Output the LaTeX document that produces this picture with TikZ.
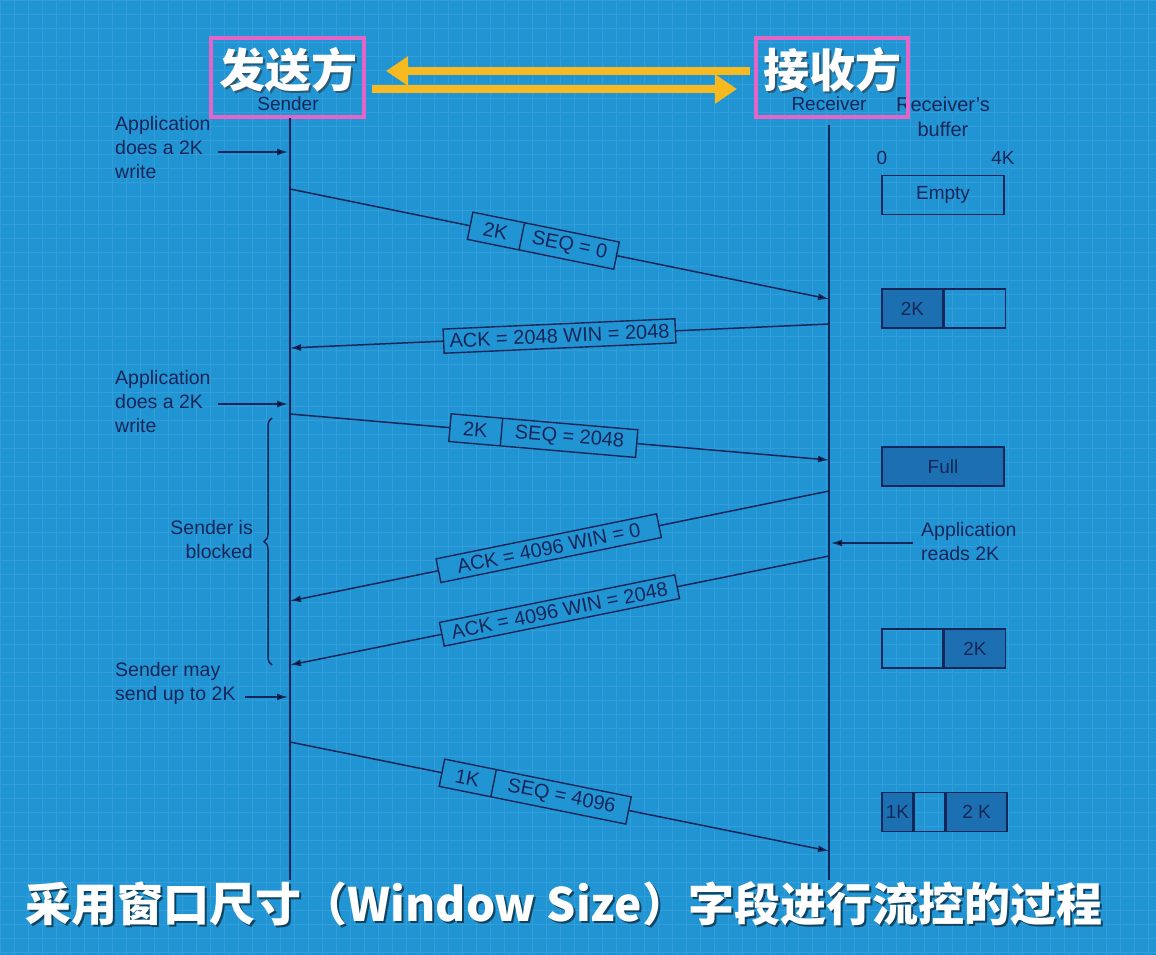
\documentclass[tikz,border=0pt]{standalone}
\usepackage{fontspec}
\setmainfont{Liberation Sans}
\newfontfamily\cjk{Noto Sans CJK SC}
\usetikzlibrary{arrows.meta,shapes.multipart,decorations.pathreplacing,calc}
\definecolor{bg}{RGB}{33,148,212}
\definecolor{ink}{RGB}{22,38,88}
\definecolor{dk}{RGB}{28,112,178}
\definecolor{pinkb}{RGB}{228,100,200}
\definecolor{yel}{RGB}{246,186,32}
\definecolor{gridc}{RGB}{80,175,228}
\tikzset{
  conn/.style={draw=ink, line width=1.5pt},
  tip/.style={-{Latex[length=11pt,width=7pt]}},
  lbl/.style={font=\fontsize{19.5}{24}\selectfont, text=ink, inner sep=0pt, align=left},
  msg/.style={draw=ink, line width=1.4pt, fill=bg, font=\fontsize{20}{22}\selectfont, text=ink, inner xsep=0pt, inner ysep=5pt, sloped},
  msgsplit/.style={msg, rectangle split, rectangle split horizontal, rectangle split parts=2},
  buf/.style={draw=ink, line width=1.5pt, minimum height=39pt, inner sep=0pt, font=\fontsize{19}{20}\selectfont, text=ink},
  head/.style={font=\cjk\bfseries\fontsize{46}{50}\selectfont, inner sep=0pt},
  pinkbox/.style={draw=pinkb, line width=4pt},
  yarrow/.style={draw=yel, line width=8pt, -{Triangle[length=22pt,width=28pt]}},
}
\begin{document}
\begin{tikzpicture}[x=1pt,y=-1pt]
\useasboundingbox (0,0) rectangle (1156,955);
\fill[bg] (0,0) rectangle (1156,955);
\draw[gridc, line width=0.5pt, opacity=0.35] (0,0) grid[step=14pt] (1156,955);

% headers
\node[head, text=black!80, opacity=0.6] at (290,72) {发送方};
\node[head, text=white] (sh) at (288,70) {发送方};
\node[font=\fontsize{19}{20}\selectfont, text=ink] (sn) at (288,104) {Sender};
\node[head, text=black!80, opacity=0.6] at (834,72) {接收方};
\node[head, text=white] (rh) at (832,70) {接收方};
\node[font=\fontsize{19}{20}\selectfont, text=ink] (rn) at (829,104) {Receiver};
\node[font=\fontsize{20}{25}\selectfont, text=ink, align=center, inner sep=0pt] (rb) at (943,117) {Receiver's\\buffer};
\draw[pinkbox] (211,38) rectangle (364,117);
\draw[pinkbox] (756,38) rectangle (908,117);
\coordinate (ya1) at (750,71); \coordinate (ya2) at (386,71);
\coordinate (yb1) at (372,89); \coordinate (yb2) at (737,89);
\draw[yarrow] (ya1) -- (ya2);
\draw[yarrow] (yb1) -- (yb2);

% lifelines
\coordinate (S0) at (290,118); \coordinate (S1) at (290,880);
\coordinate (R0) at (829,125); \coordinate (R1) at (829,880);
\draw[conn] (S0) -- (S1);
\draw[conn] (R0) -- (R1);

% buffer scale
\node[lbl, font=\fontsize{19}{20}\selectfont] (z0) at (882,158) {0};
\node[lbl, font=\fontsize{19}{20}\selectfont] (z4) at (1003,158) {4K};

% buffers
\node[buf, minimum width=122pt] (e1) at (943,195) {Empty};
\node[buf, minimum width=61pt, fill=dk] (b2l) at (912.5,308.5) {2K};
\node[buf, minimum width=61pt, anchor=west] (b2r) at (b2l.east) {};
\node[buf, minimum width=122pt, fill=dk] (b3) at (943,466.5) {Full};
\node[buf, minimum width=61pt] (b4l) at (912.5,648.5) {};
\node[buf, minimum width=61pt, anchor=west, fill=dk] (b4r) at (b4l.east) {2K};
\node[buf, minimum width=31pt, fill=dk] (b5a) at (897.5,812) {1K};
\node[buf, minimum width=30pt, anchor=west] (b5b) at (b5a.east) {};
\node[buf, minimum width=61pt, anchor=west, fill=dk] (b5c) at (b5b.east) {2 K};

% messages
\coordinate (a1) at (290,189); \coordinate (b1) at (829,299);
\path (a1) -- (b1) node[msgsplit, pos=0.47] (m1) {\makebox[52pt]{2K}\nodepart{two}\makebox[96pt]{SEQ = 0}};
\draw[conn] (a1) -- (m1.west);
\draw[conn, tip] (m1.east) -- (b1);

\coordinate (a2) at (290,348); \coordinate (b2) at (829,324);
\path (b2) -- (a2) node[msg, pos=0.5, minimum width=232pt, inner xsep=5pt] (m2) {ACK = 2048 WIN = 2048};
\draw[conn] (b2) -- (m2.east);
\draw[conn, tip] (m2.west) -- (a2);

\coordinate (a3) at (290,414); \coordinate (b3c) at (829,460);
\path (a3) -- (b3c) node[msgsplit, pos=0.47] (m3) {\makebox[51pt]{2K}\nodepart{two}\makebox[135pt]{SEQ = 2048}};
\draw[conn] (a3) -- (m3.west);
\draw[conn, tip] (m3.east) -- (b3c);

\coordinate (a4) at (290,601); \coordinate (b4) at (829,491);
\path (b4) -- (a4) node[msg, pos=0.52, minimum width=225pt, inner xsep=6pt] (m4) {ACK = 4096 WIN = 0};
\draw[conn] (b4) -- (m4.east);
\draw[conn, tip] (m4.west) -- (a4);

\coordinate (a5) at (290,665); \coordinate (b5) at (829,556);
\path (b5) -- (a5) node[msg, pos=0.5, minimum width=240pt, inner xsep=6pt] (m5) {ACK = 4096 WIN = 2048};
\draw[conn] (b5) -- (m5.east);
\draw[conn, tip] (m5.west) -- (a5);

\coordinate (a6) at (290,742); \coordinate (b6) at (829,851);
\path (a6) -- (b6) node[msgsplit, pos=0.455] (m6) {\makebox[52pt]{1K}\nodepart{two}\makebox[137pt]{SEQ = 4096}};
\draw[conn] (a6) -- (m6.west);
\draw[conn, tip] (m6.east) -- (b6);

% left annotations
\node[lbl, anchor=north west] (t1) at (115,116) {Application\\does a 2K\\write};
\coordinate (w1a) at (218,152); \coordinate (w1b) at (288,152);
\draw[conn, tip] (w1a) -- (w1b);
\node[lbl, anchor=north west] (t2) at (115,370) {Application\\does a 2K\\write};
\coordinate (w2a) at (218,404); \coordinate (w2b) at (288,404);
\draw[conn, tip] (w2a) -- (w2b);
\coordinate (br1) at (272,665); \coordinate (br2) at (272,418);
\draw[conn, decorate, decoration={brace, amplitude=8pt}] (br1) -- (br2);
\node[lbl, anchor=east, align=right] (t3) at (253,540) {Sender is\\blocked};
\node[lbl, anchor=north west] (t4) at (115,662) {Sender may\\send up to 2K};
\coordinate (w4a) at (245,697); \coordinate (w4b) at (288,697);
\draw[conn, tip] (w4a) -- (w4b);

% right annotation
\node[lbl, anchor=west] (t5) at (921,542) {Application\\reads 2K};
\coordinate (w5a) at (913,543); \coordinate (w5b) at (831,543);
\draw[conn, tip] (w5a) -- (w5b);

% caption
\node[font=\cjk\bfseries\fontsize{46}{50}\selectfont, text=black, opacity=0.55, inner sep=0pt] at (566,906) {采用窗口尺寸（Window Size）字段进行流控的过程};
\node[font=\cjk\bfseries\fontsize{46}{50}\selectfont, text=white, inner sep=0pt] (cap) at (564,904) {采用窗口尺寸（Window Size）字段进行流控的过程};
\end{tikzpicture}
\end{document}
